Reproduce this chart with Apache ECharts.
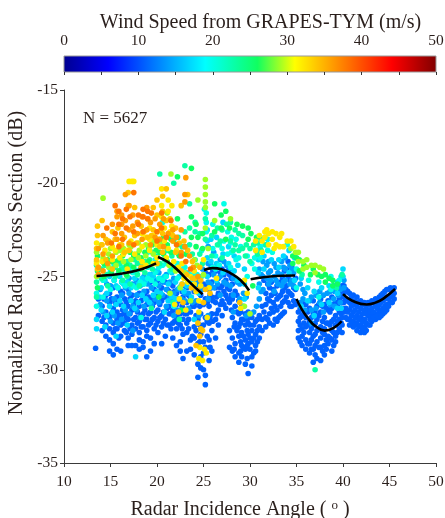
<!DOCTYPE html>
<html><head><meta charset="utf-8">
<style>html,body{margin:0;padding:0;background:#fff}#c{width:445px;height:518px}</style>
<script src="https://cdn.jsdelivr.net/npm/echarts@6/dist/echarts.min.js"></script>
</head><body><div id="c"></div>
<script>
// each row: incidence angle, then the NRCS values read at that angle
const wind11 = [
[13.4,-28.85],[13.7,-26.2,-27.1],[14.1,-26.6,-27.4,-27.9],[14.5,-26,-26.9,-27.6,-28.2],[14.9,-25.9,-26.4,-27.2,-27.8,-28.4,-29],
[15.3,-25.6,-26.7,-27.5,-28,-28.6,-29.2],[15.7,-26.1,-26.9,-27.3,-27.8,-28.9],[16.1,-25.8,-26.5,-27.1,-27.6,-28.2,-29],[16.5,-26.2,-27,-27.5,-27.9],
[16.9,-25.7,-26.6,-27.3,-28.3,-28.7],[17.3,-26,-26.8,-27.6,-28.1,-28.7],[17.7,-25.5,-26.3,-27.2,-27.8,-28.7],[18.1,-25.9,-26.6,-27.4,-28,-28.4,-28.9],
[18.5,-25.4,-26.1,-27,-27.7,-28.5,-28.8],[18.9,-25.8,-26.5,-27.3,-27.9,-28.2,-29.3],[19.3,-25.3,-26.2,-26.9,-27.5,-28.3,-29],[19.7,-25.7,-26.4,-27.2,-27.8,-28.6],
[20.1,-25.2,-26,-26.8,-27.4,-28],[20.5,-25.6,-26.3,-27.1,-27.7,-28.6],[20.9,-25.3,-26.1,-27.3,-28.2],[21.3,-25.8,-26.6,-27,-27.6],[21.7,-25.5,-26.2,-26.8,-27.5,-28.3],
[22.1,-25.9,-26.5,-27.2,-27.8,-28.7],[22.5,-26.3,-27,-27.6,-28.5,-29],[22.8,-26.1,-26.7,-27.3,-28.1,-29.4],[23.2,-25.6,-26.4,-27,-27.5,-28,-29],[23.6,-26.2,-26.9,-28.4,-28.9],
[24,-25.8,-26.6,-27.7,-28.3,-29.2],[24.4,-25.5,-27.3,-28.6,-29.7,-30.4],[24.7,-26,-27,-28.1,-29.3,-29.9],[25,-25.4,-26.5,-27.6,-28.5,-29.1,-30],[25.2,-24.8,-26.2,-27.2,-28.8,-30.3,-30.8],
[25.6,-24.9,-25.7,-26.6,-27.5,-28.4,-29.5],[25.9,-25.3,-26.1,-27,-27.9,-29],[26.3,-24.7,-25.6,-26.4,-27.3,-28.3],[26.6,-25.1,-25.9,-26.8,-27.6],[27,-24.6,-25.5,-26.3,-27.1],
[27.4,-25.2,-26,-26.7],[27.8,-24.9,-25.7,-26.4,-27.9,-28.8],[28.1,-25.4,-26.2,-27.2,-28.3,-29],[28.4,-25.8,-26.6,-27.5,-28.6,-29.3],[28.8,-26.3,-27,-27.7,-28.2,-29.1,-29.6],
[29.1,-26.6,-27.3,-28,-28.7,-29.3],[29.5,-27,-27.6,-28.4,-28.9,-29.7],[29.8,-26.9,-27.5,-28.1,-28.6,-30.2],[30.2,-27.2,-27.9,-28.5,-29.3,-29.8],[30.6,-27.4,-28.1,-28.7,-29],
[31,-27.1,-27.7,-28.3],[31.3,-26.6,-27.3,-27.9],[31.7,-25.9,-26.5,-27.2,-27.7],[32.1,-25.6,-26.3,-27,-27.5],[32.5,-25.7,-26.4,-26.9,-27.6],[32.9,-25.5,-26.2,-26.8,-27.4],
[33.3,-25.3,-26,-26.6,-27.1],[33.7,-24.7,-25.6,-26.3,-26.9],[34.1,-24.2,-25,-25.8,-26.4],[34.5,-24.5,-25.3,-26,-26.6],[34.9,-25.1,-25.7,-26.5],
[35.2,-26.9,-27.4,-27.9,-28.3],[35.6,-26.4,-27.1,-27.8,-28.2,-28.7],[36,-26.5,-27.2,-27.7,-28.4,-28.9],[36.4,-26.7,-27.4,-28,-28.6,-29.1],[36.8,-26.3,-27,-27.6,-28.2,-28.9,-29.6],
[37.2,-26.6,-27.3,-27.9,-28.5,-29.4],[37.6,-26.2,-26.9,-27.7,-28.3,-28.8,-29.5],[38,-26.5,-27.2,-27.8,-28.1,-28.7,-29.2],[38.4,-26.3,-26.8,-27.5,-28.2,-28.6],[38.8,-26.1,-26.7,-27.4,-27.9,-28.4,-29],
[39.2,-26.4,-27.1,-27.6,-28.2,-28.5],[39.6,-26.2,-26.9,-27.3,-27.8],[39.9,-25.5,-26.1,-26.7,-27.2,-27.6,-28],
[40.3,-25.7,-26.2,-26.7,-27.2],[40.7,-25.9,-26.4,-26.8,-27.3,-27.6],[41.1,-26,-26.5,-26.9,-27.4,-27.7],[41.5,-26.1,-26.6,-27.1,-27.5,-27.9],[41.9,-26.3,-26.7,-27.2,-27.6,-28],
[42.3,-26.4,-26.8,-27.3,-27.7,-28],[42.7,-26.4,-26.8,-27.1,-27.6],[43.1,-26.3,-26.7,-27.1,-27.4],[43.5,-26.2,-26.6,-27,-27.3],[43.9,-26.1,-26.5,-26.9,-27.2],
[44.3,-25.9,-26.3,-26.7,-27],[44.7,-25.7,-26.1,-26.5,-26.8],[45.1,-25.6,-26,-26.4],[45.5,-25.6,-25.9,-26.2],
[14.3,-26.2,-27.2],[15.1,-26.2,-27],[15.5,-26.4,-27.8],[15.9,-26.3,-27.1,-28.3],[16.3,-25.9,-26.8,-27.4],[16.7,-26.4,-27.2,-28],[17.1,-26.2,-27,-27.8],[17.5,-26.5,-27.3],[17.9,-26,-26.9,-27.5],[18.3,-26.3,-27.1,-27.7],
[18.7,-25.9,-26.8,-27.3],[19.1,-26.1,-27,-27.6],[19.5,-25.6,-26.6,-27.3],[19.9,-26,-26.9,-27.6],[20.3,-25.8,-26.5,-27.2],[20.7,-26.1,-26.9,-27.5],[21.1,-25.7,-26.7,-27.6],[21.5,-26.2,-27,-27.8],[21.9,-25.8,-26.8,-27.4],
[22.3,-26.2,-27,-27.5],[22.7,-25.8,-26.6,-27.8],[23,-25.5,-27],[23.4,-26,-27.3,-27.8],[23.8,-25.6,-26.6,-28.2],[24.2,-26.4,-27.1,-27.9],[24.6,-25.7,-26.6,-27.6,-28.5],
[25.4,-25.5,-26.4,-27.4,-28.2],[25.7,-24.3,-26,-27.2,-28.8],[26,-24.7,-26.3,-27.4],[26.4,-25.2,-26.1,-27],[26.8,-24.8,-25.6,-26.5],[27.2,-24.9,-25.8,-26.5],[27.6,-24.7,-25.6,-26.2],[28,-25.1,-26,-26.8],
[28.3,-27.7,-28.9],[28.6,-26,-26.9,-27.9],[29,-26.9,-27.5,-28.5,-29],[29.3,-27.3,-28.2,-28.8],[29.7,-27.3,-27.9,-28.7,-29.4],[30,-27.6,-28.3,-28.9],[30.4,-27.6,-28.3,-29.1],[30.8,-27.3,-27.9,-28.5],
[31.5,-25.2,-26.9],[31.9,-25.4,-26.2,-27.3],[32.3,-25.3,-26,-26.7],[32.7,-25.9,-26.6,-27.3],[33.1,-25.4,-26.1,-27.2],[33.5,-25.1,-25.8,-26.4,-27],[33.9,-24.6,-25.5,-26.1],[34.3,-25.2,-25.9,-26.6],[34.7,-25.6,-26.3],
[35.4,-26.7,-27.2,-27.6,-28.5],[35.8,-26.9,-27.5,-28],[36.2,-26.9,-27.6,-28.6],[36.6,-27.2,-27.8,-28.4,-28.9],[37,-26.9,-27.5,-28.1,-28.7,-29.2],[37.4,-26.5,-27.1,-27.8,-28.8],[37.8,-26.6,-27.4,-28,-29],
[38.2,-26.7,-27.5,-28.4,-28.9],[38.6,-26.9,-27.6,-28.3],[39,-26.5,-27.3,-28,-28.7],[39.4,-26.6,-27.4,-28],[39.8,-25.8,-26.4,-27,-27.5],
[40.1,-25.5,-25.9,-26.4,-26.9],[40.5,-25.8,-26.3,-26.9,-27.3],[40.9,-26.1,-26.6,-27.1,-27.5],[41.3,-26.3,-26.8,-27.2,-27.6],[41.7,-26.4,-26.9,-27.3,-27.7],[42.1,-26.5,-27,-27.4,-27.8],[42.5,-26.6,-27,-27.5,-27.9],
[42.9,-26.5,-26.9,-27.3,-27.6],[43.3,-26.4,-26.9,-27.2],[43.7,-26.3,-26.7,-27.1],[44.1,-26,-26.4,-26.8,-27.1],[44.5,-25.8,-26.2,-26.6,-26.9],[44.9,-25.7,-26.2,-26.6],[45.3,-25.7,-26.1,-26.4]
];
const wind14 = [
[13.9,-25.7,-26.5],[14.6,-25.4,-26.3],[15.4,-25.2,-26.2,-27.1],[16.2,-25.3,-26,-27.3],[17,-25.1,-25.9,-27],[17.8,-25.2,-26,-26.8],[18.6,-25,-25.8,-26.6],[19.4,-24.9,-25.6,-26.5],
[20.2,-24.8,-25.5,-26.4],[21,-24.9,-25.7,-26.6],[21.8,-25.1,-25.9,-27.1],[22.6,-25.5,-26.2],[23.4,-25.9,-26.7],[24.2,-25.2,-26.3],[24.9,-24.6,-25.7],
[25.5,-23.4,-24.3,-25.3,-26.2,-27.1],[26.1,-23.7,-24.9,-25.6],[26.8,-24.1,-25,-26],[27.5,-24.4,-25.4],[28.2,-25.1,-26,-26.9],[28.9,-25.4,-26.2],[29.3,-25.9,-26.6],
[30.4,-26.9],[31,-24.6,-25.4,-26.2],[31.4,-24.2,-25,-25.7],[31.8,-24.4,-25.1],[32.2,-24.7,-25.2],[32.6,-24.3,-25,-25.8],[33,-24.8,-25.4],[33.4,-24.2,-24.9,-25.5],[33.8,-24,-24.6,-25.2],[34.3,-24.4,-25.4],[34.7,-24.8,-25.5],
[35.4,-25.4,-26.4],[35.9,-25.9,-26.8],[36.6,-26.1,-26.8,-27.5],[37.1,-26,-26.7],[37.9,-26,-26.9],[38.6,-25.8,-26.5],[39.1,-25.8,-26.6],[39.7,-25.7,-26.4],[40.1,-25.2,-25.6],
[14.2,-26.9],[15,-25.5,-27.4],[15.8,-25.6,-27.5],[16.6,-25.6,-26.8],[17.4,-25.4,-26.6,-27.9],[18.2,-25.5,-27.2],[19,-25.4,-26.3],[19.8,-25.2,-26.2],[20.6,-25.3,-26],[21.4,-25.3,-26.1],[22.2,-25.7,-26.8],[23,-25.9,-26.3],[23.8,-25.1,-26.4],[24.5,-25.4,-27.1],
[25.8,-24.4,-25.4],[26.5,-24.5,-25.4],[27.2,-24.2,-25.3],[27.9,-24.6,-25.5],[28.6,-25.3],[30.1,-27],[29.6,-26.1,-27.1],[30.7,-26.6],[31.2,-24.9,-25.8],[32,-24.2,-24.8,-25.4],[32.8,-24.5,-25.2],[33.6,-24.5,-25.3],[34.5,-24.6,-25.2],
[35.7,-25.7,-26.2],[36.4,-26.3],[37.5,-25.8,-26.4],[38.3,-25.9],[39,-25.5,-26.2],[39.5,-25.5,-26]
];
const wind17 = [
[13.5,-27.3,-27.8],[14,-25.6,-26.8],[14.4,-25.2,-27.7],[14.9,-25,-26.6],[15.6,-25.5,-26.5,-28.2],[16.4,-25.4,-26.6],[17.2,-25.6,-26.3],[17.7,-29.3],[18,-25.4,-26.4],[18.8,-25.2,-26.2],[19.6,-25,-26],
[20.4,-25.1,-25.9],[21.2,-25.4,-26.3],[22,-25.3,-26.2],[22.9,-24.9,-25.8],[23.7,-25.3,-26.1],[24.5,-25,-25.9],[25.4,-22.5,-23.1,-24,-25],[25.8,-23,-24.2],[26.4,-22.9,-24.3,-25.2],[27.1,-22.1,-23.8,-24.8],[27.7,-23.4,-24.3],
[28.3,-23.9,-24.7],[28.7,-24.4,-25.2],[29.4,-24.6,-25.4,-26.2],[30.9,-24.1,-24.8,-25.6],[31.5,-23.9,-24.6],[32.3,-24.1],[33.1,-24.1,-24.5],[33.6,-23.9],[34.2,-23.6,-24.8],[34.8,-24,-25.2],
[35.5,-25.1,-26.6],[36.2,-25.6,-26.3],[36.9,-25.8,-27.1],[37.7,-25.6,-26.5],[38.5,-25.5,-26.4],[39.4,-25.3,-25.9,-26.7],[39.8,-25,-26.7],[40,-24.6,-25],
[13.8,-26.1],[14.6,-25.9,-27.1],[15.2,-26.9],[16,-25,-26.3],[16.8,-25.3,-27.6],[17.6,-25.1,-26.7],[18.4,-25.1,-26],[19.2,-24.9,-26.4],[20,-24.7,-25.8],[20.8,-25,-26.9],[21.6,-24.8,-26.1],[22.4,-25,-25.6],[23.2,-24.8,-25.5],[24,-25,-27.3]
];
const wind20 = [
[13.5,-25.9,-26.6],[14.2,-25.2,-26.1],[15,-24.7,-25.7],[15.8,-24.9,-25.6],[16.6,-24.7,-25.5],[17.4,-24.8,-25.5],[18.2,-24.6,-25.3],[19,-24.5,-25.1],[19.8,-24.1,-24.8,-25.4],[20.6,-22.1,-24.4,-25.2],
[21.4,-22.9,-24.7],[22.2,-24.3,-25.1],[23,-24.5],[24,-24.8,-25.5],[24.8,-23.6,-25],[25.3,-21.6,-22.1,-22.6],[26,-22.2,-23.5,-24.5],[26.7,-23.3,-24.4],[27.2,-21.1,-23.1],[27.6,-22.6,-23.8],
[28,-22.9,-23.7],[28.5,-23,-24.1],[29,-23.4],[29.7,-23.9,-25],[30.5,-24,-24.6],[31.1,-23.4,-24],[31.6,-22.9,-23.3],[31.9,-23,-23.6],[32.4,-23.7],[34,-23.3],[35,-24.6,-25.6],[36.3,-25.2],[37.4,-25.3,-26.1],[38.7,-25,-25.7],[39.6,-25.2],
[25.1,-21.4],[19,-23.7],[18.3,-27.2],[14.6,-24.9],[15.4,-24.4,-25.2],[16.2,-24.5,-25.3],[17,-24.6],[17.8,-24.7,-25.6],[18.6,-24.4,-25.4],[19.4,-24.3,-25.2],[20.2,-24.5,-25.1],[21,-24.3,-25],[21.8,-24.5,-26.6],[22.7,-24.6,-25.4],[23.5,-24.9],[24.3,-24.9],[26.3,-23.9,-24.6],[27,-23.5],[27.9,-23.2,-24.5],[28.8,-24],[30.2,-24.3],[30.7,-23.6]
];
const wind23 = [
[13.5,-24.4,-25.3,-26.1],[14,-24.6,-25.1],[14.7,-24.9,-25.5],[15.5,-24.5,-25],[16.3,-24.6,-25.2],[17.1,-24.4,-25.4],[17.9,-24.3,-24.9],[18.7,-24.2,-24.8],[19.5,-23.7,-24.6],[20.3,-19.5,-23.2,-24.3],[21.1,-23.6,-24.2],
[21.8,-20,-23.1],[22.3,-22.9,-23.8],[23,-19.06,-22.6,-23.4],[23.5,-21.1,-22.4,-23.3],[24.1,-22.1,-22.6,-24.1],[24.6,-22.7,-23.8],[25.2,-21.9,-23],[25.9,-22.8,-23.9],[26.5,-22.4,-23.3],[27,-22.5,-24],[27.5,-22.2],
[27.9,-22.1,-23.1],[28.4,-22.5,-23.3],[28.8,-22.7,-23.6],[29.2,-22.8,-23.5],[29.6,-23.3],[30,-23.5,-24.2],[30.4,-23.3],[30.8,-23.2,-23.8],[31.2,-23,-23.6],[31.7,-23.3],[35.6,-24.9],[37,-30],[39.3,-25.6],[39.9,-24.9],
[18.1,-25.5],[19.4,-26.7],[21.7,-26.4],[22.4,-27.3],[14.4,-24.4],[15.2,-24.6],[16,-24.3],[16.8,-24.2,-25],[17.6,-24.1],[18.4,-24.4],[19.2,-24.1],[20,-23.9],[20.8,-24.1],[21.6,-23.9,-24.6],[22.7,-23.4],[23.8,-23.8],[24.9,-24.3],[26.8,-23.1],[28.2,-23.6],[29.5,-23.9]
];
const wind26 = [
[13.6,-23.9,-24.7,-25.6],[14.3,-24.3,-25],[15.1,-24.2,-24.8],[15.9,-24.1,-24.7],[16.7,-24.4,-24.9],[17.5,-23.9,-24.5],[18.3,-24,-24.6],[19.1,-23.5,-24.2],[19.9,-23.6,-24.3],[20.7,-22.9,-23.8],[21.5,-23,-23.7],
[22.2,-19.65,-21.9,-23.3],[23.7,-19.2,-21.8,-22.9],[24.2,-22.2,-23.4],[24.9,-22.7,-23.5],[26.2,-21.1,-22.6],[26.9,-21.7,-22.4],[27.4,-21.5,-23],[27.8,-22.4],[28.6,-22.2],[29.2,-22.3],[29.8,-22.4,-23],[30.1,-22.7],[30.7,-22.9],
[34.6,-23.9,-24.3],[35.3,-24.1,-24.7],[35.8,-24.4],[36.5,-24.9],[37.3,-24.9],[38.1,-24.9,-25.3],[38.9,-25.2,-25.5],[39.4,-25.4],[22.6,-26.8],[20.2,-26.1],[30.3,-25.5],
[14.7,-24.1],[15.5,-24.2],[16.3,-23.9],[17.1,-23.7],[17.9,-23.8],[18.7,-23.7],[19.5,-23.3],[20.3,-23.7],[21.1,-23.3],[22.4,-23.9],[23.1,-23.8],[24.4,-22.9],[35,-24],[36.8,-24.6],[37.7,-25],[38.5,-25.1]
];
const wind29 = [
[13.5,-23.7,-24.2,-25],[14.2,-20.8,-24],[14.8,-23.8,-24.5],[15.6,-23.7,-24.4],[16.4,-23.5,-24.2],[17.2,-23.4,-24.1],[18,-23.2,-24],[18.8,-23.3,-23.9],[19.6,-23.1,-23.8],[20.4,-23.3],[21.5,-19.5,-22.7],[21.1,-21.6],
[25.2,-19.8,-20.2,-20.6,-21,-21.3],[24.4,-20.9],[25.5,-23.5],[26.2,-22],[27.9,-21.9],[34.4,-23.5],[34.9,-23.7],[35.2,-23.7,-24.2],[35.7,-24.2,-24.6],[36.1,-24.1,-24.5],[36.6,-24.4],[37,-24.4,-24.8],[37.5,-24.5],[37.9,-24.6],[24.3,-24.4],[29.4,-26.6],[30,-27],
[14,-23.3],[15,-23.5],[16,-23.6],[17,-23.3],[18.1,-23.6],[19.2,-23.4],[20.2,-23],[21.3,-24.4],[22,-24.7],[23,-24.8],[24,-24.1],[25,-24.9],[25.2,-22.4],[22.5,-25.6],[23.6,-26.3],[21.4,-25.9]
];
const wind32 = [
[13.5,-24.3,-23.2],[14.4,-23.6],[15.2,-23.4,-24.1],[16,-23.3,-24],[16.8,-23.6,-24.6],[17,-19.9],[17.3,-19.9],[17.5,-19.9],[17.6,-23.8],[18.4,-23.4,-24.2,-22.7],[19.2,-23,-23.6,-22.4],[20,-22.6,-23.3,-24],
[20.5,-20.3,-21.2,-21.8],[20.8,-22.4,-23.1],[21.2,-20.9,-21.5,-23.5],[21.6,-21.2,-22.3],[22.1,-23.6],[22.7,-24.3],[23.3,-25.3],[24,-25.4,-24.7],[24.5,-26.3,-26.9],[25,-24.1],[25.4,-27.2],[25.6,-25.6],
[30.6,-23.6,-23.1],[31,-22.8],[31.3,-23.1,-23.7],[31.6,-22.6,-22.9],[32,-22.7,-23.3],[32.4,-22.6,-23],[32.8,-22.7,-23.3],[33.2,-22.9,-23.4],[33.6,-23.4],[34,-23.1],[34.4,-23.1],[34.7,-23.4],
[26.4,-25.1],[29,-26.7],[29.4,-25.2],[24.9,-29.5],[24.5,-29.4],[25.3,-29.1],[21.9,-26.5],[22.4,-26.2],[23.1,-26.8],
[14.1,-24.2],[15.5,-23.6],[16.4,-23.8],[17.2,-23.1],[18.8,-22.9,-24.4],[19.6,-22.8,-24.3],[20.4,-22.5],[21,-24],[21.4,-22.6],[21.8,-24.2],[22.3,-24.5],[22.9,-25.1],[23.6,-25],[24.2,-25.8],[24.7,-25.5],[31.8,-22.5],[32.6,-23.5],[33.4,-22.7],[24.6,-28.8],[25.1,-28.9],[29.7,-25.9]
];
const wind34 = [
[13.6,-22.3,-22.8,-24.6],[14.1,-22,-23.3],[14.5,-23,-24.1],[15.2,-22.6,-24.6],[15.8,-22.4],[16.5,-22.9,-23.7],[16.9,-20.5,-21.2],[17.6,-21.3,-22.8],[18.3,-22.3,-24.5],[19,-21.9,-22.9],[19.6,-21.3,-22.5],[20,-20.9,-21.7,-24.3],
[20.6,-20.7,-21.5,-22.7,-23.7],[21,-20.3,-22],[21.4,-21.9],[22,-22.4,-23.7],[22.6,-21.2,-24.7],[22.9,-23.1],[23.3,-23.6,-20.6],[23.8,-24.2,-25.1],[24.3,-25.7],[24.7,-25.2],[25,-26.4],[24.4,-27.5],[24.7,-27.8],[24.9,-27.9],
[22.8,-26.4],[22.3,-26.9],[25.7,-25.9],[28.9,-26.4],[24.2,-28.7],[24.6,-28.2],
[13.5,-23.5,-24.1],[14.8,-23.1],[15.5,-23],[16.2,-23.3],[17,-23.6],[17.8,-23.2],[18.6,-22.6],[19.4,-22.8],[20.3,-23.4],[21.7,-22.8],[22.4,-23.2],[23.2,-24.9],[23.7,-25.6],[24.1,-25.1],[24.6,-24.5],[25.2,-25.7],[22.7,-25.4]
];
const wind36 = [
[13.7,-23.5,-24.5,-24.9],[14.2,-22.8,-23.8,-24.7],[14.7,-23.2,-24.3],[15.2,-22.2,-23.9],[15.7,-21.5,-21.8,-23],[16.2,-21.7,-22.2,-22.7],[16.6,-20.6,-22],[17,-21.2,-22.5,-23.2],[17.4,-21.7,-22.3],[17.9,-22.1,-22.7],[18.4,-21.8,-23],
[18.9,-21.3,-22.5],[19.3,-22.1,-23.3],[19.8,-21.9,-22.9],[20.3,-22.2,-23],[20.7,-21.9,-23.4],[21.2,-22.7],[21.7,-22.5,-23.1],[22.1,-22.9],[22.6,-22.5,-23.7],[23,-20.6,-21,-23.4],[23.1,-19.7],[23.5,-23.9],[23.9,-24.5],[24.4,-25]
];
const wind38 = [
[14.6,-22.4],[15.1,-23.2],[15.5,-21.2,-22.7],[15.9,-21.5,-22.2,-23.4],[16.3,-21.9,-23],[16.7,-21.4,-22.4],[17.1,-21.8],[17.5,-20.5,-22.6,-23.3],[18,-21.7,-22.2],[18.5,-21.4,-21.8,-22.6],[19,-21.5,-21.9],[19.4,-21.6],[20,-22.6,-23.1],[20.5,-21.6,-22.4],[21,-22.9],[21.5,-22],[22.1,-23.3],[22.6,-23.9],[23.1,-24.2],[23.6,-24.6]
];
const windLevels = [11,14,17,20,23,26,29,32,34,36,38];
const windGroups = [wind11,wind14,wind17,wind20,wind23,wind26,wind29,wind32,wind34,wind36,wind38];
const fitA = [[13.5,-24.97],[15,-24.92],[16.7,-24.8],[18.4,-24.6],[19.9,-24.3]];
const fitB = [[20.1,-23.95],[21.1,-24.2],[22.1,-24.6],[23.5,-25.3],[24.9,-25.95]];
const fitC = [[25.05,-24.65],[26,-24.55],[27,-24.62],[27.85,-24.8],[29,-25.2],[29.9,-25.75]];
const fitD = [[30.07,-25.15],[31,-25.07],[32.15,-25],[33.5,-24.96],[34.85,-24.95]];
const fitE = [[35,-26.2],[35.5,-26.7],[36.25,-27.25],[37,-27.65],[38.05,-27.9],[39,-27.75],[39.85,-27.4]];
const fitF = [[40,-25.95],[41,-26.3],[42.55,-26.5],[43.5,-26.4],[44.3,-26.2],[45.6,-25.67]];
const fits = [fitA,fitB,fitC,fitD,fitE,fitF];
const jetColors = ['#00008f','#0000ff','#00ffff','#10ff60','#ffff00','#ff0000','#800000'];
const jetStops = [0,6,19,26,31,44,50];

const points = [];
windGroups.forEach((g,i)=>g.forEach(r=>{for(let k=1;k<r.length;k++)points.push([r[0],r[k],windLevels[i]]);}));
function jet(w){
  let i=0; while(i<jetStops.length-2&&w>jetStops[i+1])i++;
  const t=(w-jetStops[i])/(jetStops[i+1]-jetStops[i]);
  const h=s=>[1,3,5].map(p=>parseInt(s.substr(p,2),16));
  const a=h(jetColors[i]),b=h(jetColors[i+1]);
  return 'rgb('+a.map((v,n)=>Math.round(v+(b[n]-v)*t)).join(',')+')';
}
const windScale=[];for(let w=0;w<=50;w++)windScale.push(jet(w));
const ink='#2a1f1c', font='"Liberation Serif","Times New Roman",serif';
const chart=echarts.init(document.getElementById('c'),null,{renderer:'canvas'});
chart.setOption({
  animation:false,
  backgroundColor:'#fff',
  textStyle:{fontFamily:font,color:ink},
  title:{text:'Wind Speed from GRAPES-TYM (m/s)',left:255.5,top:8,textAlign:'center',
    textStyle:{fontFamily:font,fontSize:20,fontWeight:'normal',color:ink}},
  grid:[{left:64,top:90,width:372,height:373,outerBoundsMode:'none'},{left:64,top:56,width:372,height:16,outerBoundsMode:'none'}],
  xAxis:[
   {type:'value',gridIndex:0,min:10,max:50,interval:5,
    axisLine:{onZero:false,lineStyle:{color:'#3a3a3a',width:1}},axisTick:{length:4,lineStyle:{color:'#3a3a3a'}},
    axisLabel:{fontFamily:font,fontSize:15.5,color:ink,margin:11},splitLine:{show:false},
    name:'{a|Radar Incidence Angle ( }{s|o}{a| )}',nameLocation:'middle',nameGap:36,
    nameTextStyle:{padding:[0,20,0,0],rich:{a:{fontFamily:font,fontSize:20,color:ink},s:{fontFamily:font,fontSize:13,color:ink,padding:[0,0,8,0]}}}},
   {type:'value',gridIndex:1,min:0,max:50,interval:5,position:'top',z:5,
    axisLine:{show:false},axisTick:{inside:true,length:3,lineStyle:{color:'#333'}},
    axisLabel:{fontFamily:font,fontSize:15.5,color:ink,margin:7,formatter:v=>v%10===0?String(v):''},splitLine:{show:false}}
  ],
  yAxis:[
   {type:'value',gridIndex:0,min:-35,max:-15,interval:5,
    axisLine:{onZero:false,lineStyle:{color:'#3a3a3a',width:1}},axisTick:{length:4,lineStyle:{color:'#3a3a3a'}},
    axisLabel:{fontFamily:font,fontSize:15.5,color:ink,margin:6,padding:[3,0,0,0]},splitLine:{show:false},
    name:'Normalized Radar Cross Section (dB)',nameLocation:'middle',nameGap:33,
    nameTextStyle:{fontFamily:font,fontSize:20,color:ink,padding:[0,0,0,27]}},
   {type:'value',gridIndex:1,min:0,max:1,show:false}
  ],
  visualMap:{show:false,seriesIndex:0,dimension:2,min:0,max:50,inRange:{color:windScale}},
  graphic:[{type:'text',left:83,top:110,style:{text:'N = 5627',font:'17px '+font,fill:ink}}],
  series:[
   {type:'scatter',xAxisIndex:0,yAxisIndex:0,symbolSize:5.6,data:points,itemStyle:{opacity:1},z:2},
   ...fits.map(f=>({type:'line',xAxisIndex:0,yAxisIndex:0,data:f,smooth:true,showSymbol:false,symbol:'none',
      lineStyle:{color:'#000',width:2.6},z:3})),
   {type:'custom',xAxisIndex:1,yAxisIndex:1,data:[[0,50]],z:2,silent:true,
    renderItem:(p,api)=>{
      const a=api.coord([api.value(0),0]),b=api.coord([api.value(1),1]);
      const stops=windScale.map((c,w)=>({offset:w/50,color:c}));
      return {type:'rect',shape:{x:a[0],y:b[1],width:b[0]-a[0],height:a[1]-b[1]},
        style:{fill:new echarts.graphic.LinearGradient(0,0,1,0,stops),stroke:'#999',lineWidth:1}};
    }}
  ]
});
</script></body></html>
